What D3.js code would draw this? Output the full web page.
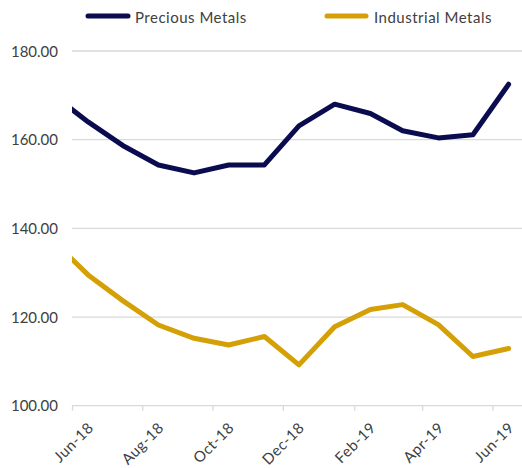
<!DOCTYPE html>
<html>
<head>
<meta charset="utf-8">
<script src="https://cdn.jsdelivr.net/npm/d3@7"></script>
<style>
  body { margin: 0; background: #fff; }
  text { font-family: Lato, "Open Sans", sans-serif; fill: #404040; }
</style>
</head>
<body>
<div id="chart"></div>
<script>
// data (monthly, mid-month points; May-18 point sits left of the visible axis)
const months = ["2018-05-15", "2018-06-15", "2018-07-15", "2018-08-15", "2018-09-15", "2018-10-15",
  "2018-11-15", "2018-12-15", "2019-01-15", "2019-02-15", "2019-03-15", "2019-04-15",
  "2019-05-15", "2019-06-15"];
const precious = [170.2, 164.0, 158.7, 154.3, 152.5, 154.3, 154.3, 163.1, 168.0, 165.9, 162.0, 160.4, 161.1, 172.5];
const industrial = [137.3, 129.5, 123.7, 118.2, 115.2, 113.7, 115.6, 109.2, 117.8, 121.7, 122.8, 118.3, 111.1, 112.9];
const yTicks = [100, 120, 140, 160, 180];
const xTicks = ["2018-06-01", "2018-08-01", "2018-10-01", "2018-12-01", "2019-02-01", "2019-04-01", "2019-06-01"];
const seriesNames = ["Precious Metals", "Industrial Metals"];
const colors = ["#0b0b50", "#d4a005"];

const width = 522, height = 468;
const plotLeft = 72, plotRight = 522, plotTop = 51, plotBottom = 405.7;

const parse = d3.timeParse("%Y-%m-%d");
const fmt = d3.timeFormat("%b-%y");

const svg = d3.select("#chart").append("svg")
  .attr("width", width)
  .attr("height", height);

const x = d3.scaleTime()
  .domain([parse("2018-06-01"), parse("2019-06-01")])
  .range([plotLeft, 492.5]);

const y = d3.scaleLinear()
  .domain([100, 180])
  .range([plotBottom, plotTop]);

// gridlines
svg.append("g")
  .selectAll("line")
  .data(yTicks.slice(1))
  .join("line")
  .attr("x1", plotLeft).attr("x2", plotRight)
  .attr("y1", d => y(d)).attr("y2", d => y(d))
  .attr("stroke", "#d9d9d9")
  .attr("stroke-width", 1.3);

// y labels
svg.append("g")
  .selectAll("text")
  .data(yTicks)
  .join("text")
  .attr("x", 58)
  .attr("y", d => y(d) + 5.5)
  .attr("text-anchor", "end")
  .attr("font-size", 15)
  .text(d => d.toFixed(2));

// x axis
const xAxis = svg.append("g")
  .attr("transform", "translate(0," + plotBottom + ")")
  .call(d3.axisBottom(x)
    .tickValues(xTicks.map(parse))
    .tickSize(5)
    .tickFormat(fmt));
xAxis.select(".domain").attr("d", "M" + plotLeft + ",0H" + plotRight).attr("stroke", "#d9d9d9").attr("stroke-width", 1.3);
xAxis.selectAll(".tick line").attr("stroke", "#d9d9d9").attr("stroke-width", 1.3);
xAxis.selectAll(".tick text")
  .attr("font-size", 15)
  .attr("font-family", "Lato, sans-serif")
  .attr("letter-spacing", 0.5)
  .attr("fill", "#404040")
  .attr("text-anchor", "end")
  .attr("dy", null)
  .attr("y", null)
  .attr("transform", "translate(22,23) rotate(-45)");

// clip to plot area
svg.append("clipPath").attr("id", "plot")
  .append("rect")
  .attr("x", plotLeft).attr("y", 0)
  .attr("width", plotRight - plotLeft).attr("height", plotBottom);

const line = d3.line()
  .x((d, i) => x(parse(months[i])))
  .y(d => y(d));

[precious, industrial].forEach((s, i) => {
  svg.append("path")
    .datum(s)
    .attr("clip-path", "url(#plot)")
    .attr("fill", "none")
    .attr("stroke", colors[i])
    .attr("stroke-width", 5)
    .attr("stroke-linejoin", "round")
    .attr("stroke-linecap", "round")
    .attr("d", line);
});

// legend
const legendX = [[88, 128, 135], [327, 366, 374]];
seriesNames.forEach((name, i) => {
  const g = svg.append("g");
  g.append("line")
    .attr("x1", legendX[i][0]).attr("x2", legendX[i][1])
    .attr("y1", 16).attr("y2", 16)
    .attr("stroke", colors[i])
    .attr("stroke-width", 5)
    .attr("stroke-linecap", "round");
  g.append("text")
    .attr("x", legendX[i][2])
    .attr("y", 22.5)
    .attr("font-size", 15)
    .attr("letter-spacing", 0.5)
    .text(name);
});
</script>
</body>
</html>
